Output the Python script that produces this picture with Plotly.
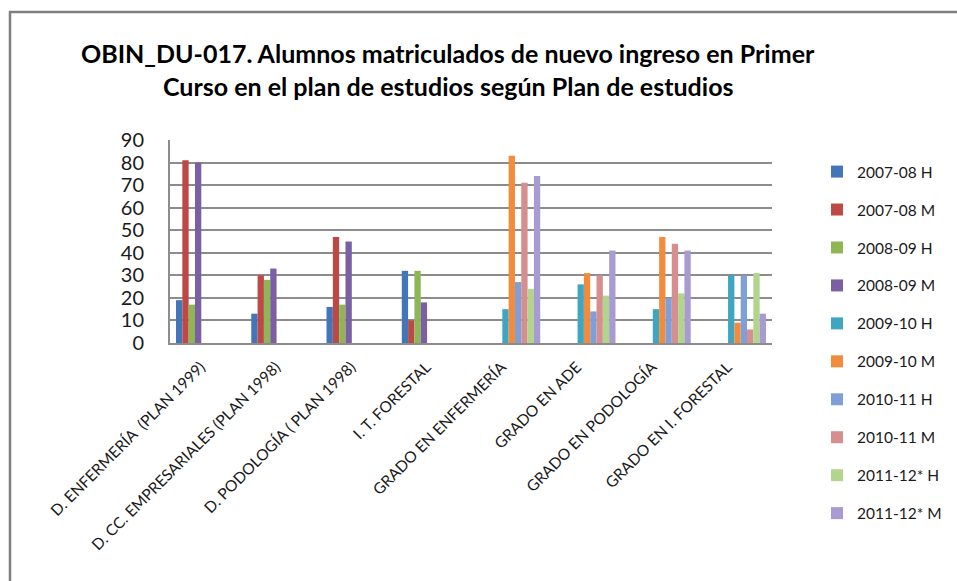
import plotly.graph_objects as go

# ---------------- data ----------------
categories = [
    "D. ENFERMERÍA  (PLAN 1999)",
    "D. CC. EMPRESARIALES (PLAN 1998)",
    "D. PODOLOGÍA ( PLAN 1998)",
    "I. T. FORESTAL",
    "GRADO EN ENFERMERÍA",
    "GRADO EN ADE",
    "GRADO EN PODOLOGÍA",
    "GRADO EN I. FORESTAL",
]
series_names = [
    "2007-08 H", "2007-08 M", "2008-09 H", "2008-09 M", "2009-10 H",
    "2009-10 M", "2010-11 H", "2010-11 M", "2011-12* H", "2011-12* M",
]
v_2007_08_H = [19, 13, 16, 32, None, None, None, None]
v_2007_08_M = [81, 30, 47, 10, None, None, None, None]
v_2008_09_H = [17, 28, 17, 32, None, None, None, None]
v_2008_09_M = [80, 33, 45, 18, None, None, None, None]
v_2009_10_H = [None, None, None, None, 15, 26, 15, 30]
v_2009_10_M = [None, None, None, None, 83, 31, 47, 9]
v_2010_11_H = [None, None, None, None, 27, 14, 20, 30]
v_2010_11_M = [None, None, None, None, 71, 30, 44, 6]
v_2011_12_H = [None, None, None, None, 24, 21, 22, 31]
v_2011_12_M = [None, None, None, None, 74, 41, 41, 13]
series_values = [v_2007_08_H, v_2007_08_M, v_2008_09_H, v_2008_09_M, v_2009_10_H,
                 v_2009_10_M, v_2010_11_H, v_2010_11_M, v_2011_12_H, v_2011_12_M]
y_ticks = [0, 10, 20, 30, 40, 50, 60, 70, 80, 90]

colors = ["#4276b9", "#bd4946", "#8fb655", "#7a5fa2", "#3fa6c2",
          "#f38b3c", "#7f9fd6", "#d68f8e", "#b2d58d", "#a79bcf"]

# ---------------- layout helpers ----------------
W, H = 957, 581
L, R, T, B = 170, 772, 140, 343   # plot area in pixels


def px(x):
    return (x - L) / (R - L)


def py(y):
    return (B - y) / (B - T)


FONT = "Lato, 'Open Sans', sans-serif"

fig = go.Figure()
for name, vals, col in zip(series_names, series_values, colors):
    fig.add_trace(go.Bar(
        x=categories, y=vals, name=name, legendgroup=name,
        marker=dict(color=col, line=dict(width=0)),
    ))

fig.update_layout(
    template="none",
    width=W, height=H,
    margin=dict(l=L, r=W - R, t=T, b=H - B, pad=0, autoexpand=False),
    paper_bgcolor="white", plot_bgcolor="white",
    barmode="group", bargap=0.16, bargroupgap=0,
    font=dict(family=FONT, color="#1a1a1a"),
    showlegend=True,
    legend=dict(
        x=px(817), y=1 - 155 / H, xanchor="left", yanchor="top",
        yref="container", maxheight=1,
        traceorder="grouped", tracegroupgap=14.8,
        font=dict(size=15.5, family=FONT, color="#1a1a1a"),
        bgcolor="rgba(0,0,0,0)", borderwidth=0,
    ),
    xaxis=dict(
        type="category", showgrid=False, showline=True, linecolor="#8c8c8c",
        linewidth=2, ticks="", tickangle=-45, automargin=False,
        ticklabelstandoff=7, ticklabelshift=-7,
        tickfont=dict(size=15.5, family=FONT, color="#1a1a1a"),
    ),
    yaxis=dict(
        range=[0, 90], tickvals=y_ticks, showgrid=True, gridcolor="#8c8c8c",
        gridwidth=2, showline=True, linecolor="#8c8c8c", linewidth=2,
        zeroline=False, ticks="", ticklabelstandoff=20, automargin=False,
        tickfont=dict(size=20, family=FONT, color="#1a1a1a"),
    ),
    shapes=[dict(
        type="rect", xref="paper", yref="paper",
        x0=px(10), x1=px(990), y0=py(12), y1=py(620),
        line=dict(color="#7f7f7f", width=2.5), fillcolor="rgba(0,0,0,0)",
        layer="below",
    )],
    annotations=[
        dict(text="<b>OBIN_DU-017. Alumnos matriculados de nuevo ingreso en Primer</b>",
             xref="paper", yref="paper", x=px(448), y=py(53),
             xanchor="center", yanchor="middle", showarrow=False,
             font=dict(size=25, family=FONT, color="#000000")),
        dict(text="<b>Curso en el plan de estudios según Plan de estudios</b>",
             xref="paper", yref="paper", x=px(448), y=py(86),
             xanchor="center", yanchor="middle", showarrow=False,
             font=dict(size=25, family=FONT, color="#000000")),
    ],
)

fig.write_html("out.html", config={"displayModeBar": False},
               post_script="document.body.style.margin='0px';")
